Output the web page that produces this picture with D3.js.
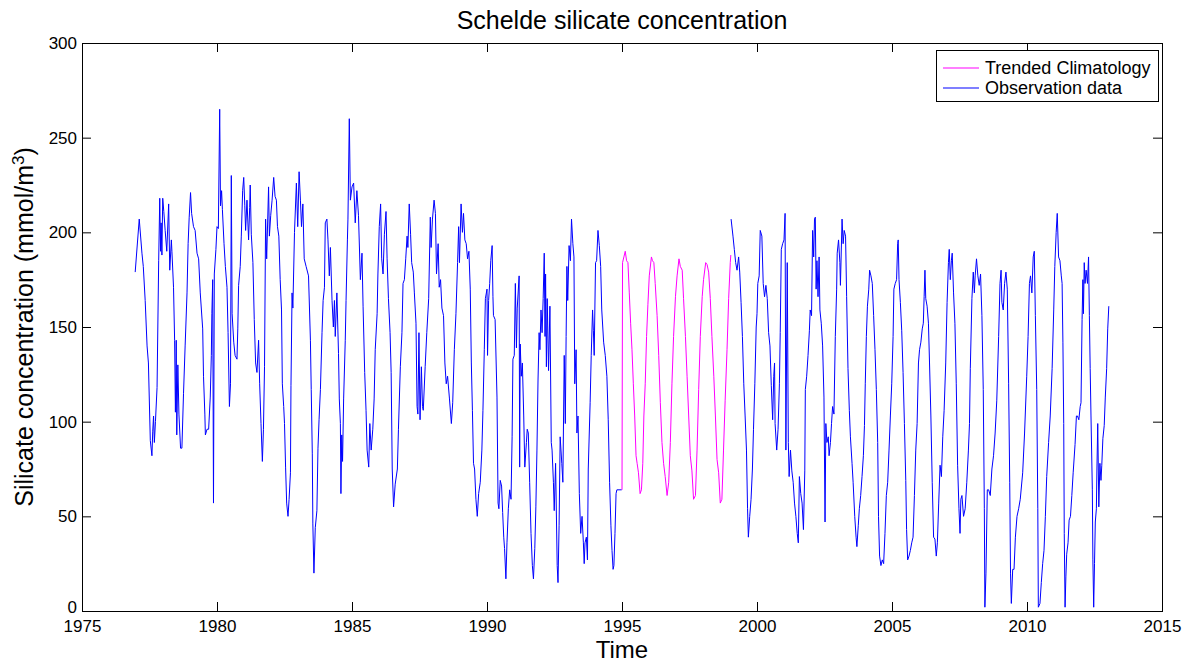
<!DOCTYPE html>
<html>
<head>
<meta charset="utf-8">
<script src="https://cdn.jsdelivr.net/npm/d3@7"></script>
<style>
  html, body { margin: 0; padding: 0; background: #fff; }
  svg { display: block; font-family: "Liberation Sans", Arial, sans-serif; }
</style>
</head>
<body>
<svg id="chart" width="1193" height="663"></svg>
<script>
// Observed silicate concentration (mmol/m3), decimal year / value pairs.
// A null value breaks the line where the record has no observations.
const observations = [
  [1976.97,179],[1977.12,207],[1977.22,189],[1977.27,182],[1977.34,164],[1977.41,140],[1977.46,131],
  [1977.53,90],[1977.59,82],[1977.62,95],[1977.65,103],[1977.68,89],[1977.72,100],[1977.78,118],
  [1977.84,185],[1977.88,218],[1977.91,190],[1977.93,205],[1977.96,188],[1977.99,218],[1978.03,211],
  [1978.08,201],[1978.14,190],[1978.21,215],[1978.25,180],[1978.31,196],[1978.33,190],[1978.39,171],
  [1978.43,143],[1978.46,105],[1978.49,143],[1978.51,93],[1978.55,130],[1978.59,104],[1978.65,86],
  [1978.70,86],[1978.76,115],[1978.82,140],[1978.89,168],[1978.93,194],[1978.97,208],[1979.02,221],
  [1979.06,210],[1979.13,203],[1979.19,201],[1979.26,189],[1979.32,186],[1979.38,168],[1979.47,149],
  [1979.50,124],[1979.55,104],[1979.57,93],[1979.63,96],[1979.69,96],[1979.75,113],[1979.79,135],
  [1979.81,157],[1979.84,175],[1979.87,57],[1979.90,178],[1979.96,191],[1980.00,203],[1980.05,202],
  [1980.10,265],[1980.13,214],[1980.17,222],[1980.20,212],[1980.26,194],[1980.31,182],[1980.37,171],
  [1980.41,147],[1980.46,108],[1980.50,120],[1980.53,230],[1980.56,157],[1980.62,142],[1980.67,135],
  [1980.74,133],[1980.77,149],[1980.80,172],[1980.86,182],[1980.90,198],[1980.95,222],[1980.99,229],
  [1981.03,214],[1981.06,201],[1981.11,217],[1981.17,196],[1981.21,213],[1981.23,225],[1981.27,199],
  [1981.33,184],[1981.38,154],[1981.43,131],[1981.48,126],[1981.54,143],[1981.58,120],[1981.63,99],
  [1981.68,79],[1981.72,96],[1981.76,129],[1981.80,207],[1981.84,186],[1981.91,224],[1981.94,198],
  [1981.99,209],[1982.04,217],[1982.10,229],[1982.15,219],[1982.20,217],[1982.24,203],[1982.29,198],
  [1982.34,175],[1982.39,159],[1982.42,120],[1982.47,108],[1982.50,99],[1982.54,76],[1982.58,57],
  [1982.63,50],[1982.67,59],[1982.72,73],[1982.74,119],[1982.78,168],[1982.81,160],[1982.87,200],
  [1982.94,226],[1982.99,203],[1983.04,232],[1983.09,217],[1983.13,203],[1983.18,215],[1983.23,186],
  [1983.30,182],[1983.39,177],[1983.46,143],[1983.49,117],[1983.53,83],[1983.55,46],[1983.59,20],
  [1983.64,44],[1983.70,53],[1983.74,86],[1983.78,101],[1983.83,117],[1983.89,147],[1983.93,164],
  [1983.98,171],[1984.01,205],[1984.07,207],[1984.11,196],[1984.16,177],[1984.20,192],[1984.26,164],
  [1984.31,150],[1984.35,164],[1984.38,145],[1984.44,168],[1984.50,136],[1984.53,112],[1984.57,99],
  [1984.59,62],[1984.62,93],[1984.65,79],[1984.69,112],[1984.75,143],[1984.78,164],[1984.83,196],
  [1984.85,207],[1984.90,260],[1984.94,217],[1985.00,224],[1985.06,226],[1985.12,205],[1985.18,222],
  [1985.24,209],[1985.31,175],[1985.37,189],[1985.41,161],[1985.47,126],[1985.52,106],[1985.56,85],
  [1985.62,76],[1985.66,99],[1985.71,85],[1985.77,96],[1985.82,112],[1985.86,138],[1985.93,157],
  [1985.96,178],[1986.01,203],[1986.06,215],[1986.10,186],[1986.15,178],[1986.20,199],[1986.26,211],
  [1986.30,186],[1986.35,165],[1986.41,147],[1986.45,126],[1986.49,75],[1986.54,55],[1986.60,67],
  [1986.68,75],[1986.72,96],[1986.79,129],[1986.85,147],[1986.89,173],[1986.94,175],[1986.99,186],
  [1987.04,198],[1987.07,192],[1987.12,215],[1987.17,199],[1987.21,184],[1987.27,179],[1987.31,168],
  [1987.37,152],[1987.41,108],[1987.44,104],[1987.48,147],[1987.52,101],[1987.57,129],[1987.61,108],
  [1987.64,106],[1987.71,129],[1987.77,147],[1987.84,165],[1987.90,208],[1987.93,192],[1987.98,207],
  [1988.04,217],[1988.09,210],[1988.13,178],[1988.19,194],[1988.23,171],[1988.28,175],[1988.33,160],
  [1988.39,156],[1988.44,131],[1988.49,120],[1988.54,124],[1988.61,112],[1988.68,99],[1988.73,110],
  [1988.79,138],[1988.85,157],[1988.91,184],[1988.95,203],[1988.98,184],[1989.04,215],[1989.09,200],
  [1989.13,210],[1989.18,196],[1989.23,194],[1989.28,186],[1989.33,190],[1989.38,170],[1989.42,131],
  [1989.46,106],[1989.50,78],[1989.54,75],[1989.59,59],[1989.64,50],[1989.69,62],[1989.75,68],
  [1989.81,85],[1989.85,106],[1989.90,138],[1989.94,165],[1990.00,170],[1990.02,135],[1990.06,164],
  [1990.10,173],[1990.14,185],[1990.19,193],[1990.22,166],[1990.24,156],[1990.30,154],[1990.37,113],
  [1990.41,57],[1990.44,54],[1990.49,69],[1990.54,66],[1990.58,52],[1990.62,39],[1990.65,33],
  [1990.70,17],[1990.74,36],[1990.79,54],[1990.84,64],[1990.89,59],[1990.93,92],[1990.96,133],
  [1991.01,135],[1991.05,173],[1991.09,139],[1991.12,160],[1991.19,177],[1991.21,76],[1991.23,141],
  [1991.27,124],[1991.31,131],[1991.36,103],[1991.40,76],[1991.46,89],[1991.49,96],[1991.53,94],
  [1991.58,68],[1991.63,41],[1991.68,24],[1991.72,17],[1991.77,33],[1991.81,55],[1991.85,85],
  [1991.89,122],[1991.93,147],[1991.96,138],[1992.00,159],[1992.04,147],[1992.08,165],[1992.12,189],
  [1992.15,145],[1992.17,178],[1992.20,129],[1992.23,165],[1992.28,127],[1992.33,161],[1992.38,89],
  [1992.41,85],[1992.46,68],[1992.49,53],[1992.54,78],[1992.60,24],[1992.63,15],[1992.67,45],
  [1992.71,92],[1992.77,78],[1992.81,68],[1992.86,135],[1992.90,99],[1992.93,145],[1992.96,182],
  [1992.99,164],[1993.04,193],[1993.09,185],[1993.13,207],[1993.18,194],[1993.22,187],[1993.25,120],
  [1993.30,138],[1993.33,94],[1993.37,103],[1993.42,62],[1993.47,41],[1993.52,50],[1993.57,36],
  [1993.60,25],[1993.63,36],[1993.68,39],[1993.72,27],[1993.75,75],[1993.82,110],[1993.86,135],
  [1993.91,159],[1993.94,148],[1993.97,135],[1994.02,184],[1994.06,185],[1994.11,201],[1994.16,193],
  [1994.21,182],[1994.25,159],[1994.32,142],[1994.38,135],[1994.44,124],[1994.49,101],[1994.54,68],
  [1994.59,45],[1994.63,32],[1994.67,22],[1994.70,24],[1994.74,41],[1994.78,62],[1994.81,64],
  [1994.99,64],
  [1997.00,null],
  [1999.04,207],[1999.11,198],[1999.16,191],[1999.21,184],[1999.26,180],[1999.32,187],[1999.36,179],
  [1999.41,163],[1999.46,145],[1999.51,120],[1999.56,103],[1999.61,85],[1999.65,54],[1999.68,39],
  [1999.73,50],[1999.78,59],[1999.83,75],[1999.87,96],[1999.92,120],[1999.97,150],[2000.00,157],
  [2000.03,173],[2000.08,177],[2000.12,201],[2000.18,198],[2000.23,173],[2000.28,166],[2000.33,172],
  [2000.38,165],[2000.43,147],[2000.48,140],[2000.53,119],[2000.58,101],[2000.62,124],[2000.65,131],
  [2000.67,99],[2000.73,85],[2000.78,96],[2000.83,120],[2000.86,147],[2000.90,191],[2000.95,194],
  [2001.00,196],[2001.04,210],[2001.07,85],[2001.12,184],[2001.16,89],[2001.19,71],[2001.24,85],
  [2001.29,74],[2001.34,68],[2001.39,57],[2001.44,50],[2001.49,41],[2001.53,36],[2001.57,71],
  [2001.62,62],[2001.67,57],[2001.72,43],[2001.77,74],[2001.79,117],[2001.84,124],[2001.89,135],
  [2001.94,148],[2001.97,159],[2002.02,156],[2002.06,201],[2002.10,187],[2002.13,207],[2002.16,208],
  [2002.19,170],[2002.22,185],[2002.26,166],[2002.30,187],[2002.33,159],[2002.38,152],[2002.43,140],
  [2002.48,113],[2002.52,47],[2002.55,99],[2002.59,89],[2002.64,92],[2002.67,82],[2002.72,89],
  [2002.76,99],[2002.80,108],[2002.85,104],[2002.90,145],[2002.95,170],[2002.97,189],[2003.02,196],
  [2003.07,184],[2003.09,172],[2003.15,207],[2003.19,194],[2003.23,201],[2003.28,198],[2003.32,166],
  [2003.37,128],[2003.42,106],[2003.46,92],[2003.52,78],[2003.56,68],[2003.62,50],[2003.67,39],
  [2003.70,34],[2003.75,45],[2003.79,54],[2003.84,61],[2003.89,71],[2003.94,82],[2003.98,98],
  [2004.01,120],[2004.05,145],[2004.09,161],[2004.14,170],[2004.17,180],[2004.22,177],[2004.27,173],
  [2004.32,156],[2004.37,138],[2004.42,117],[2004.47,89],[2004.50,50],[2004.54,29],[2004.59,24],
  [2004.64,27],[2004.69,25],[2004.74,41],[2004.79,61],[2004.84,68],[2004.89,85],[2004.94,103],
  [2004.99,120],[2005.04,145],[2005.07,170],[2005.12,173],[2005.17,175],[2005.21,194],[2005.23,196],
  [2005.26,175],[2005.31,163],[2005.36,148],[2005.41,126],[2005.46,99],[2005.51,69],[2005.54,43],
  [2005.58,27],[2005.63,29],[2005.68,32],[2005.73,36],[2005.78,39],[2005.83,61],[2005.88,85],
  [2005.93,99],[2005.98,131],[2006.02,138],[2006.07,142],[2006.12,149],[2006.16,152],[2006.19,166],
  [2006.22,180],[2006.25,165],[2006.30,161],[2006.35,152],[2006.39,131],[2006.44,103],[2006.49,68],
  [2006.54,39],[2006.59,38],[2006.64,29],[2006.68,36],[2006.73,57],[2006.78,77],[2006.83,71],
  [2006.88,92],[2006.93,106],[2006.99,131],[2007.04,163],[2007.09,184],[2007.12,191],[2007.16,175],
  [2007.20,185],[2007.23,189],[2007.28,168],[2007.33,152],[2007.38,120],[2007.43,77],[2007.48,54],
  [2007.52,41],[2007.55,59],[2007.59,61],[2007.65,50],[2007.71,54],[2007.77,68],[2007.83,85],
  [2007.87,99],[2007.90,128],[2007.96,165],[2008.01,179],[2008.05,168],[2008.08,177],[2008.13,186],
  [2008.18,177],[2008.23,172],[2008.28,178],[2008.33,156],[2008.38,117],[2008.42,54],[2008.44,2],
  [2008.48,20],[2008.53,64],[2008.58,64],[2008.64,61],[2008.70,75],[2008.76,82],[2008.82,94],
  [2008.88,111],[2008.95,145],[2009.00,173],[2009.04,180],[2009.07,163],[2009.12,159],[2009.17,173],
  [2009.22,179],[2009.27,170],[2009.32,120],[2009.36,68],[2009.39,20],[2009.42,4],[2009.47,22],
  [2009.52,22],[2009.57,39],[2009.63,50],[2009.69,54],[2009.75,59],[2009.84,73],[2009.91,94],
  [2009.99,124],[2010.04,145],[2010.09,173],[2010.13,177],[2010.18,168],[2010.23,187],[2010.27,190],
  [2010.31,156],[2010.36,117],[2010.40,54],[2010.42,2],[2010.48,4],[2010.53,15],[2010.58,25],
  [2010.63,32],[2010.68,50],[2010.73,71],[2010.80,89],[2010.86,103],[2010.93,128],[2010.99,159],
  [2011.03,182],[2011.08,200],[2011.12,210],[2011.17,187],[2011.22,185],[2011.27,177],[2011.30,173],
  [2011.33,142],[2011.36,99],[2011.38,41],[2011.41,2],[2011.44,18],[2011.47,30],[2011.52,36],
  [2011.56,48],[2011.61,50],[2011.66,61],[2011.71,73],[2011.78,88],[2011.83,103],[2011.87,103],
  [2011.92,101],[2011.97,108],[2012.00,110],[2012.04,154],[2012.07,175],[2012.09,157],[2012.12,184],
  [2012.15,173],[2012.19,180],[2012.24,173],[2012.28,187],[2012.31,156],[2012.34,128],[2012.37,103],
  [2012.42,64],[2012.44,27],[2012.47,2],[2012.50,25],[2012.53,47],[2012.57,54],[2012.59,75],
  [2012.62,99],[2012.66,55],[2012.70,78],[2012.74,69],[2012.77,77],[2012.81,91],[2012.86,98],
  [2012.90,113],[2012.95,128],[2012.99,149],[2013.03,161]
];

// Trended climatology filling the 1995-1999 gap.
const climatology = [
  [1995.00,64],[1995.02,184],[1995.07,187],[1995.12,190],[1995.17,185],[1995.22,184],[1995.27,168],
  [1995.32,152],[1995.37,138],[1995.42,120],[1995.47,103],[1995.52,82],[1995.56,78],[1995.61,73],
  [1995.67,62],[1995.72,64],[1995.77,78],[1995.81,103],[1995.86,120],[1995.91,145],[1995.96,162],
  [1996.01,177],[1996.09,187],[1996.13,185],[1996.18,184],[1996.23,173],[1996.30,156],[1996.36,135],
  [1996.42,110],[1996.48,89],[1996.54,78],[1996.60,71],[1996.67,61],[1996.73,68],[1996.79,89],
  [1996.85,120],[1996.91,145],[1996.98,166],[1997.04,177],[1997.11,186],[1997.16,182],[1997.23,180],
  [1997.28,165],[1997.35,145],[1997.41,124],[1997.47,103],[1997.53,82],[1997.59,74],[1997.65,59],
  [1997.72,61],[1997.78,85],[1997.84,117],[1997.90,145],[1997.97,166],[1998.02,175],[1998.10,184],
  [1998.15,183],[1998.21,179],[1998.27,165],[1998.33,145],[1998.40,124],[1998.46,103],[1998.52,80],
  [1998.58,73],[1998.64,57],[1998.70,59],[1998.76,85],[1998.82,111],[1998.89,138],[1998.95,165],
  [1999.01,184],[1999.03,188]
];

const xTicks = [1975, 1980, 1985, 1990, 1995, 2000, 2005, 2010, 2015];
const yTicks = [0, 50, 100, 150, 200, 250, 300];
const legendLabels = ["Trended Climatology", "Observation data"];
const seriesColors = ["#ff00ff", "#0000ff"];

const svg = d3.select("#chart");
const plot = { left: 82, right: 1162, top: 43, bottom: 611 };

const x = d3.scaleLinear().domain([1975, 2015]).range([plot.left, plot.right]);
const y = d3.scaleLinear().domain([0, 300]).range([plot.bottom, plot.top]);

const linePath = d3.line()
  .defined(d => d[1] !== null)
  .x(d => x(d[0]))
  .y(d => y(d[1]));

svg.append("clipPath").attr("id", "plotClip")
  .append("rect")
  .attr("x", plot.left).attr("y", plot.top)
  .attr("width", plot.right - plot.left).attr("height", plot.bottom - plot.top);

const g = svg.append("g").attr("clip-path", "url(#plotClip)");

g.append("path").datum(observations)
  .attr("d", linePath).attr("fill", "none")
  .attr("stroke", seriesColors[1]).attr("stroke-width", 1);

g.append("path").datum(climatology)
  .attr("d", linePath).attr("fill", "none")
  .attr("stroke", seriesColors[0]).attr("stroke-width", 1);

// Axes: ticks point inward on all four sides, box drawn around the plot.
const tickLen = 9;
const axisBottom = d3.axisBottom(x).tickValues(xTicks).tickFormat(d3.format("d")).tickSize(-tickLen).tickPadding(9.2);
const axisTop = d3.axisTop(x).tickValues(xTicks).tickFormat("").tickSize(-tickLen);
const axisLeft = d3.axisLeft(y).tickValues(yTicks).tickSize(-tickLen).tickPadding(5);
const axisRight = d3.axisRight(y).tickValues(yTicks).tickFormat("").tickSize(-tickLen);

function styleAxis(sel) {
  sel.select(".domain").remove();
  sel.selectAll(".tick line").attr("stroke", "#000").attr("stroke-width", 1);
  sel.selectAll(".tick text").attr("fill", "#000").style("font-size", "17px")
    .style("font-family", "'Liberation Sans', Arial, sans-serif");
}

svg.append("g").attr("transform", `translate(0,${plot.bottom})`).call(axisBottom).call(styleAxis);
svg.append("g").attr("transform", `translate(0,${plot.top})`).call(axisTop).call(styleAxis);
const leftAxis = svg.append("g").attr("transform", `translate(${plot.left},0)`).call(axisLeft).call(styleAxis);
svg.append("g").attr("transform", `translate(${plot.right},0)`).call(axisRight).call(styleAxis);

// Lift the corner "0" label slightly so it clears the first year label.
leftAxis.selectAll(".tick").filter(d => d === 0).select("text").attr("y", -4);

svg.append("rect")
  .attr("x", plot.left + 0.5).attr("y", plot.top + 0.5)
  .attr("width", plot.right - plot.left).attr("height", plot.bottom - plot.top)
  .attr("fill", "none").attr("stroke", "#000").attr("stroke-width", 1);

// Title and axis labels
svg.append("text")
  .attr("x", (plot.left + plot.right) / 2).attr("y", 29)
  .attr("text-anchor", "middle").style("font-size", "25px")
  .text("Schelde silicate concentration");

svg.append("text")
  .attr("x", (plot.left + plot.right) / 2).attr("y", 657.8)
  .attr("text-anchor", "middle").style("font-size", "24px")
  .text("Time");

const yLabel = svg.append("text")
  .attr("transform", `translate(33,${(plot.top + plot.bottom) / 2}) rotate(-90)`)
  .attr("text-anchor", "middle").style("font-size", "25px");
yLabel.append("tspan").text("Silicate concentration (mmol/m");
yLabel.append("tspan").attr("baseline-shift", "super").style("font-size", "17px").text("3");
yLabel.append("tspan").text(")");

// Legend
const legend = svg.append("g").attr("transform", "translate(936,50)");
legend.append("rect")
  .attr("x", 0.5).attr("y", 0.5).attr("width", 222).attr("height", 51)
  .attr("fill", "#fff").attr("stroke", "#000").attr("stroke-width", 1);
legendLabels.forEach((label, i) => {
  const ly = 18 + i * 20;
  legend.append("path")
    .attr("d", `M7,${ly}H43`)
    .attr("fill", "none")
    .style("stroke", seriesColors[i]).style("stroke-width", 1.2);
  legend.append("text")
    .attr("x", 49).attr("y", ly + 6)
    .style("font-size", "18px").attr("fill", "#000")
    .text(label);
});
</script>
</body>
</html>
